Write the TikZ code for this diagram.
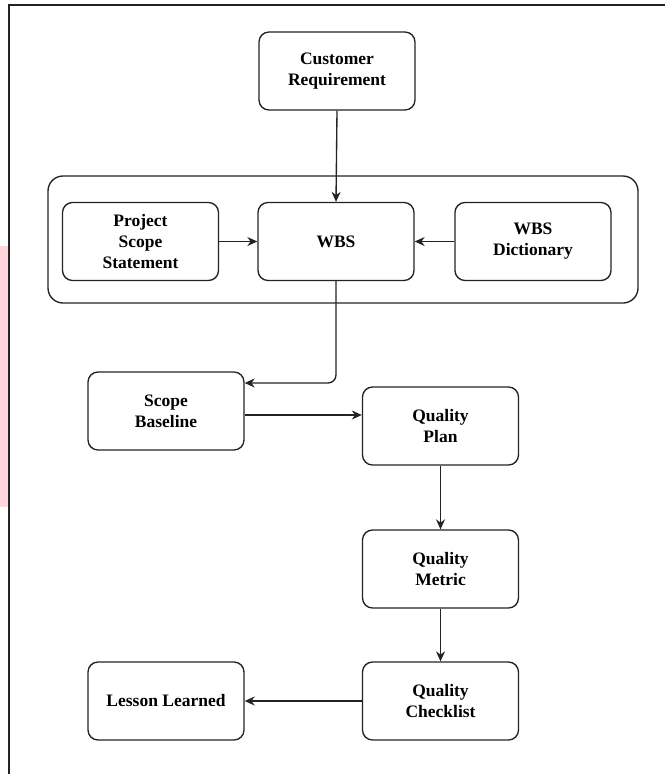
\documentclass[tikz,border=0pt]{standalone}
\usepackage{fontspec}
\setmainfont{Liberation Serif}
\usetikzlibrary{arrows.meta}
\definecolor{pinkstrip}{RGB}{255,214,219}
\definecolor{edge}{RGB}{35,35,35}
\begin{document}
\begin{tikzpicture}[x=1pt,y=-1pt,
  box/.style={draw=edge, line width=1.35pt, rounded corners=10pt,
    minimum width=156pt, minimum height=78pt, align=center,
    font=\fontsize{17.5}{21}\selectfont\bfseries, inner sep=0pt},
  groupbox/.style={draw=edge, line width=1.35pt, rounded corners=15pt,
    minimum width=590pt, minimum height=127pt, inner sep=0pt},
  arr/.style={draw=edge, line width=1.35pt, -{Stealth[length=10pt,width=9pt]}},
  frameline/.style={draw=edge, line width=1.8pt}]
\useasboundingbox (0,0) rectangle (665,774);
\fill[pinkstrip] (0,246) rectangle (8,507);
\coordinate (ftl) at (9,5);
\coordinate (ftr) at (665,5);
\coordinate (fbl) at (9,774);
\draw[frameline] (ftr) -- (ftl) -- (fbl);

\node[groupbox] (grp) at (343,239.5) {};
\node[box] (cr) at (337,71) {Customer\\Requirement};
\node[box] (pss) at (140.5,241.5) {Project\\Scope\\Statement};
\node[box] (wbs) at (336,241.5) {WBS};
\node[box] (dict) at (533,241.5) {WBS\\Dictionary};
\node[box] (sb) at (166,411) {Scope\\Baseline};
\node[box] (qp) at (440.5,426) {Quality\\Plan};
\node[box] (qm) at (440.5,569) {Quality\\Metric};
\node[box] (qc) at (440.5,701) {Quality\\Checklist};
\node[box] (ll) at (166,701) {Lesson Learned};

\draw[arr] (cr.south) -- (wbs.north);
\draw[arr] (pss.east) -- (wbs.west);
\draw[arr] (dict.west) -- (wbs.east);
\draw[arr, rounded corners=8pt] (wbs.south) |- ([yshift=28pt]sb.east);
\draw[arr] ([yshift=-4pt]sb.east) -- ([yshift=-4pt]sb.east -| qp.west);
\draw[arr] (qp.south) -- (qm.north);
\draw[arr] (qm.south) -- (qc.north);
\draw[arr] (qc.west) -- (ll.east);
\end{tikzpicture}
\end{document}
